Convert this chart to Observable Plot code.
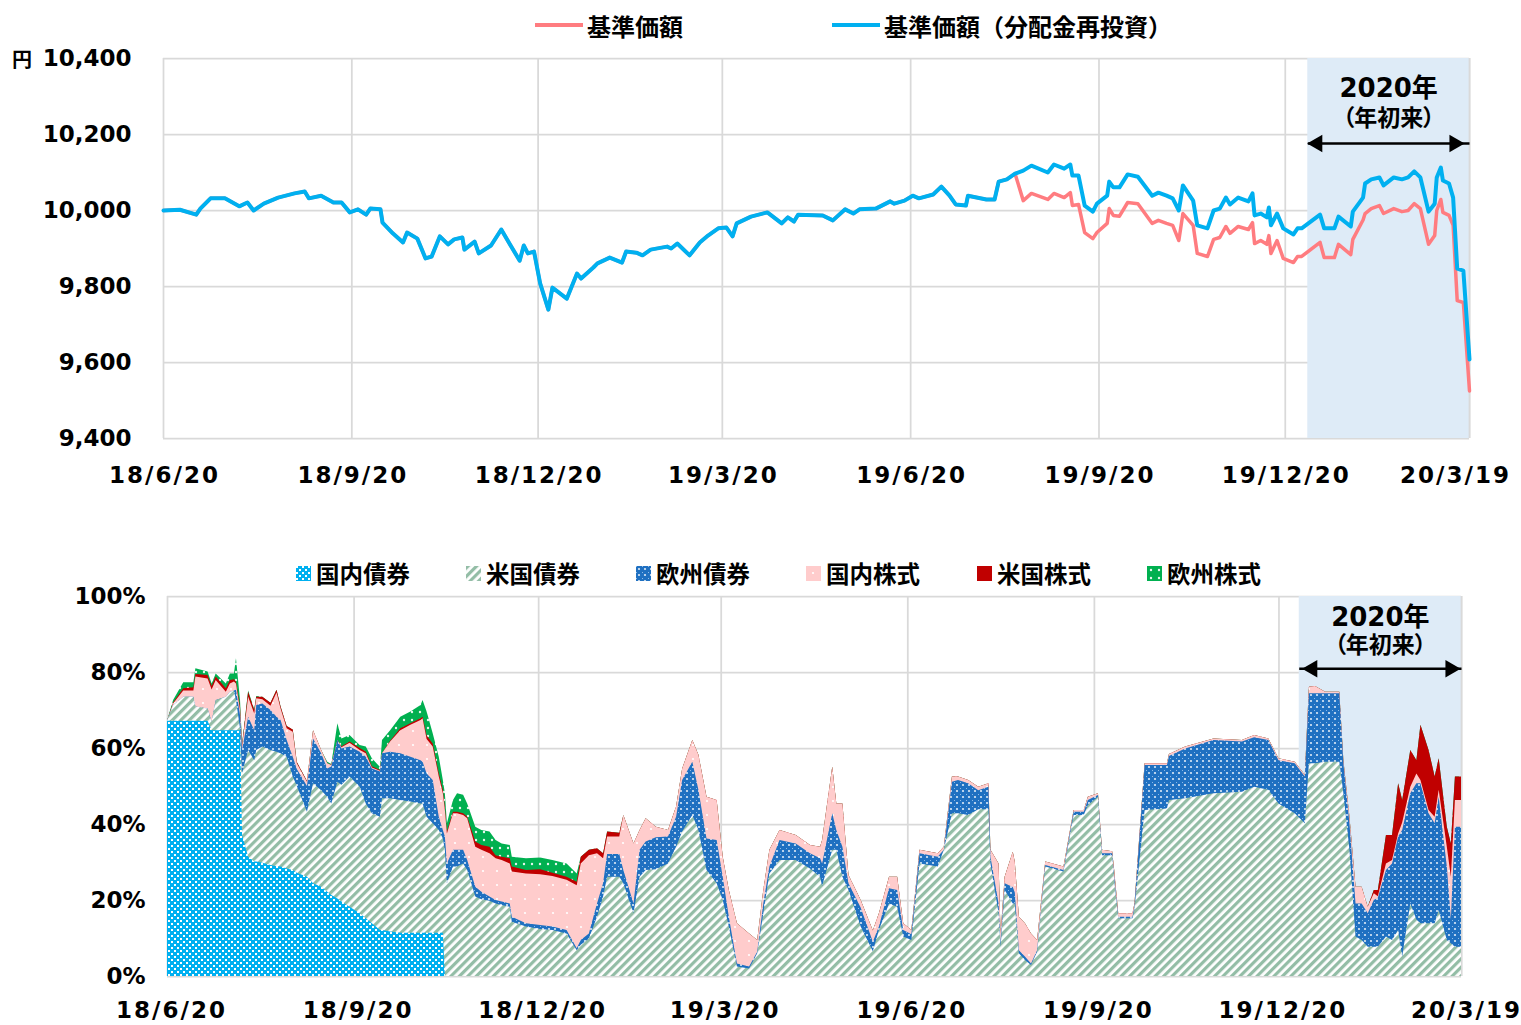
<!DOCTYPE html>
<html><head><meta charset="utf-8">
<script src="https://cdn.jsdelivr.net/npm/d3@7"></script>
<script src="https://cdn.jsdelivr.net/npm/@observablehq/plot@0.6"></script>
<style>
body{margin:0;background:#fff;}
#wrap{position:relative;width:1521px;height:1025px;overflow:hidden;background:#fff;
  font-family:"DejaVu Sans","Noto Sans CJK JP",sans-serif;font-weight:bold;color:#000;}
.abs{position:absolute;}
.item{position:absolute;display:flex;align-items:center;height:30px;white-space:nowrap;font-family:"Noto Sans CJK JP",sans-serif;font-weight:bold;}
</style></head><body>
<svg width="0" height="0" style="position:absolute;left:0;top:0">
<defs>
<pattern id="pDomB" patternUnits="userSpaceOnUse" width="6" height="6">
 <rect width="6" height="6" fill="#00B0F0"/>
 <rect x="0" y="0" width="2" height="2" fill="#ffffff"/>
 <rect x="3" y="3" width="2" height="2" fill="#ffffff"/>
</pattern>
<pattern id="pUsB" patternUnits="userSpaceOnUse" width="6" height="6" patternTransform="rotate(45)">
 <rect width="6" height="6" fill="#ffffff"/>
 <rect width="3.2" height="6" fill="#93BDA6"/>
</pattern>
<pattern id="pEuB" patternUnits="userSpaceOnUse" width="6" height="6">
 <rect width="6" height="6" fill="#1F70C1"/>
 <circle cx="3" cy="3" r="1.1" fill="#ffffff" fill-opacity="0.85"/>
 <rect x="0" y="0" width="1" height="1" fill="#8EBBE8"/>
</pattern>
<pattern id="pJpE" patternUnits="userSpaceOnUse" width="14" height="14">
 <rect width="14" height="14" fill="#FFCCCC"/>
 <circle cx="7" cy="7" r="1.1" fill="#ffffff"/>
</pattern>
<pattern id="pEuE" patternUnits="userSpaceOnUse" width="8" height="8">
 <rect width="8" height="8" fill="#00B050"/>
 <circle cx="4" cy="4" r="1.2" fill="#ffffff" fill-opacity="0.9"/>
</pattern>
</defs></svg>
<div id="wrap">
  <div id="top" class="abs" style="left:0;top:0"></div>
  <div id="bottom" class="abs" style="left:0;top:500px"></div>
  <div id="legendTop"></div>
  <div id="legendBottom"></div>
  <div class="abs" style="left:12px;top:44px;font-size:20px;font-family:'Noto Sans CJK JP',sans-serif;">円</div>
</div>
<script>
// ---------------- data: top chart (基準価額) ----------------
const tickDates = ["2018-06-20","2018-09-20","2018-12-20","2019-03-20","2019-06-20","2019-09-20","2019-12-20","2020-03-19"];
const tickLabels = ["18/6/20","18/9/20","18/12/20","19/3/20","19/6/20","19/9/20","19/12/20","20/3/19"];
const navYTicks = [9400, 9600, 9800, 10000, 10200, 10400];
const allocYTicks = [0, 20, 40, 60, 80, 100];

const navDates = [
"2018-06-20","2018-06-28","2018-07-06","2018-07-08","2018-07-13","2018-07-20","2018-07-27","2018-07-31","2018-08-03","2018-08-08",
"2018-08-15","2018-08-23","2018-08-28","2018-08-30","2018-09-05","2018-09-11","2018-09-15","2018-09-19","2018-09-23","2018-09-27",
"2018-09-29","2018-10-04","2018-10-05","2018-10-10","2018-10-15","2018-10-17","2018-10-22","2018-10-26","2018-10-29","2018-11-02",
"2018-11-06","2018-11-09","2018-11-13","2018-11-14","2018-11-19","2018-11-21","2018-11-27","2018-12-02","2018-12-06","2018-12-11",
"2018-12-13","2018-12-15","2018-12-18","2018-12-21","2018-12-25","2018-12-27","2019-01-03","2019-01-08","2019-01-10","2019-01-16",
"2019-01-18","2019-01-24","2019-01-30","2019-02-01","2019-02-06","2019-02-09","2019-02-13","2019-02-21","2019-02-23","2019-02-26",
"2019-03-04","2019-03-09","2019-03-13","2019-03-18","2019-03-22","2019-03-25","2019-03-27","2019-04-03","2019-04-11","2019-04-18",
"2019-04-21","2019-04-24","2019-04-26","2019-05-08","2019-05-13","2019-05-19","2019-05-23","2019-05-26","2019-06-03","2019-06-10",
"2019-06-12","2019-06-17","2019-06-21","2019-06-24","2019-07-01","2019-07-05","2019-07-09","2019-07-12","2019-07-17","2019-07-18",
"2019-07-27","2019-07-31","2019-08-02","2019-08-06","2019-08-10","2019-08-14","2019-08-18","2019-08-26","2019-08-29","2019-09-03",
"2019-09-06","2019-09-07","2019-09-10","2019-09-13","2019-09-17","2019-09-19","2019-09-24","2019-09-25","2019-09-27","2019-09-30",
"2019-10-04","2019-10-09","2019-10-16","2019-10-19","2019-10-23","2019-10-26","2019-10-29","2019-10-31","2019-11-05","2019-11-07",
"2019-11-12","2019-11-15","2019-11-18","2019-11-21","2019-11-23","2019-11-27","2019-12-02","2019-12-04","2019-12-05","2019-12-08",
"2019-12-11","2019-12-12","2019-12-13","2019-12-16","2019-12-19","2019-12-24","2019-12-26","2019-12-28","2020-01-06","2020-01-08",
"2020-01-13","2020-01-15","2020-01-21","2020-01-22","2020-01-27","2020-01-28","2020-01-31","2020-02-04","2020-02-06","2020-02-11",
"2020-02-15","2020-02-18","2020-02-21","2020-02-24","2020-02-28","2020-03-02","2020-03-03","2020-03-05","2020-03-06","2020-03-09",
"2020-03-11","2020-03-13","2020-03-16","2020-03-19"];

// 基準価額（分配金再投資）
const navReinvest = [
10000,10002,9989,10005,10032,10032,10011,10021,10000,10018,
10034,10045,10050,10032,10039,10021,10021,9995,10003,9989,
10005,10003,9968,9940,9916,9942,9926,9874,9879,9932,
9911,9924,9929,9897,9918,9887,9908,9950,9913,9868,
9908,9887,9892,9808,9739,9797,9768,9834,9821,9850,
9861,9876,9863,9892,9889,9882,9897,9905,9900,9913,
9882,9916,9934,9953,9955,9932,9966,9984,9995,9966,
9982,9971,9989,9987,9974,10003,9992,10003,10005,10024,
10018,10026,10039,10032,10042,10063,10039,10016,10013,10039,
10029,10029,10076,10082,10097,10105,10118,10100,10121,10110,
10121,10092,10092,10013,9997,10018,10039,10076,10061,10061,
10095,10089,10039,10047,10039,10032,10000,10066,10026,9961,
9953,10000,10005,10034,10016,10034,10024,10045,9987,9992,
9982,10008,9961,9992,9953,9937,9953,9953,9989,9953,
9953,9984,9958,9997,10034,10071,10082,10087,10066,10087,
10082,10087,10103,10087,9997,10018,10087,10113,10079,10071,
10034,9847,9842,9608];

// 基準価額: identical to the line above until the distribution, then these values (last 70 dates)
const navPrice = [
10097,10026,10045,10029,10045,10034,
10047,10013,10016,9942,9926,9942,9966,10005,9987,9985,
10021,10018,9966,9974,9966,9961,9921,9992,9961,9887,
9879,9924,9929,9958,9940,9958,9950,9968,9913,9921,
9911,9934,9887,9921,9874,9863,9879,9879,9916,9876,
9876,9911,9884,9924,9975,9992,10005,10013,9992,10005,
9997,10000,10018,10005,9911,9934,10000,10029,9995,9987,
9961,9763,9758,9525];

// ---------------- data: bottom chart (資産配分, %) ----------------
const allocDates = [
"2018-06-20","2018-06-23","2018-06-28","2018-07-03","2018-07-04","2018-07-10","2018-07-12","2018-07-14","2018-07-19","2018-07-21",
"2018-07-23","2018-07-24","2018-07-26","2018-07-27","2018-07-30","2018-08-02","2018-08-03","2018-08-06","2018-08-10","2018-08-13",
"2018-08-15","2018-08-18","2018-08-21","2018-08-23","2018-08-28","2018-08-31","2018-09-04","2018-09-07","2018-09-09","2018-09-12",
"2018-09-14","2018-09-18","2018-09-23","2018-09-26","2018-09-29","2018-10-03","2018-10-04","2018-10-08","2018-10-13","2018-10-18",
"2018-10-23","2018-10-24","2018-10-26","2018-10-29","2018-11-01","2018-11-03","2018-11-04","2018-11-05","2018-11-08","2018-11-10",
"2018-11-13","2018-11-15","2018-11-19","2018-11-22","2018-11-26","2018-11-29","2018-12-02","2018-12-06","2018-12-07","2018-12-14",
"2018-12-21","2018-12-27","2019-01-03","2019-01-08","2019-01-10","2019-01-14","2019-01-18","2019-01-21","2019-01-23","2019-01-29",
"2019-01-31","2019-02-05","2019-02-08","2019-02-11","2019-02-16","2019-02-22","2019-02-26","2019-03-01","2019-03-06","2019-03-09",
"2019-03-13","2019-03-18","2019-03-21","2019-03-24","2019-03-28","2019-04-03","2019-04-07","2019-04-10","2019-04-13","2019-04-18",
"2019-04-26","2019-05-03","2019-05-08","2019-05-09","2019-05-14","2019-05-16","2019-05-19","2019-05-22","2019-05-28","2019-06-03",
"2019-06-06","2019-06-11","2019-06-15","2019-06-18","2019-06-22","2019-06-26","2019-07-05","2019-07-08","2019-07-12","2019-07-15",
"2019-07-20","2019-07-25","2019-07-30","2019-07-31","2019-08-04","2019-08-05","2019-08-07","2019-08-11","2019-08-12","2019-08-14",
"2019-08-17","2019-08-20","2019-08-23","2019-08-27","2019-09-05","2019-09-10","2019-09-15","2019-09-17","2019-09-22","2019-09-24",
"2019-09-29","2019-09-30","2019-10-02","2019-10-09","2019-10-10","2019-10-15","2019-10-26","2019-10-27","2019-11-04","2019-11-18",
"2019-12-02","2019-12-08","2019-12-15","2019-12-20","2019-12-28","2020-01-02","2020-01-04","2020-01-07","2020-01-12","2020-01-19",
"2020-01-21","2020-01-24","2020-01-27","2020-01-30","2020-02-02","2020-02-05","2020-02-07","2020-02-11","2020-02-14","2020-02-17",
"2020-02-19","2020-02-23","2020-02-26","2020-02-28","2020-03-03","2020-03-06","2020-03-08","2020-03-12","2020-03-14","2020-03-16",
"2020-03-19"];

const domBond = [
67.2,67.2,67.2,67.2,67.2,67.2,64.7,64.7,64.7,64.7,
64.7,64.7,64.7,37.1,31.4,30.1,30.1,29.8,29.2,28.9,
28.8,28.3,27.9,27.2,26.1,24.4,23.5,22.2,21.3,20.4,
19.6,18.2,16.5,15.2,13.9,12.1,12.1,11.7,11.4,11.4,
11.4,11.4,11.4,11.4,11.4,11.4,0,0,0,0,
0,0,0,0,0,0,0,0,0,0,
0,0,0,0,0,0,0,0,0,0,
0,0,0,0,0,0,0,0,0,0,
0,0,0,0,0,0,0,0,0,0,
0,0,0,0,0,0,0,0,0,0,
0,0,0,0,0,0,0,0,0,0,
0,0,0,0,0,0,0,0,0,0,
0,0,0,0,0,0,0,0,0,0,
0,0,0,0,0,0,0,0,0,0,
0,0,0,0,0,0,0,0,0,0,
0,0,0,0,0,0,0,0,0,0,
0,0,0,0,0,0,0,0,0,0,
0];

const usBond = [
0,4.1,6.3,6.3,3.7,3.2,2.2,7.9,8.8,10.1,
10.4,7.9,0.5,16.2,28.1,26.7,29.4,30.6,30.3,30.1,
29.8,29.4,24.6,22.8,17.1,26.3,25.4,25.0,24.1,30.7,
30.7,34.3,33.3,30.2,28.9,29.8,34.7,35.1,34.9,34.5,
34.0,34.0,30.5,28.8,27.0,24.8,33.2,24.4,28.8,28.8,
29.6,27.9,20.9,20.2,19.8,19.1,18.7,18.2,14.3,13.0,
12.4,12.1,11.2,6.8,8.2,9.9,15.6,20.9,26.1,26.1,
24.4,16.5,26.1,27.9,28.1,29.6,34.0,38.0,42.4,38.4,
27.9,24.4,20.0,13.0,2.5,2.0,6.0,16.5,27.0,30.5,
30.5,28.3,26.1,23.7,33.2,33.2,26.1,22.6,13.0,6.5,
12.1,19.1,18.2,10.4,9.5,29.6,28.8,33.2,42.8,42.8,
42.4,43.9,43.9,29.6,16.5,7.7,22.6,19.1,19.1,6.0,
4.2,2.9,6.4,28.8,27.5,42.4,42.4,45.0,47.2,31.8,
31.8,25.3,15.2,15.2,17.6,43.7,44.1,46.3,46.8,48.1,
48.5,49.8,49.0,45.4,42.8,40.2,56.0,56.0,56.4,56.4,
48.1,33.2,10.4,9.5,7.7,7.7,7.7,10.4,9.5,12.1,
5.1,19.1,14.9,13.9,13.9,13.9,17.4,9.5,8.6,7.7,
7.7];

const euBond = [
0,0,0,0,0,0,0,0,0,0,
0,2.7,3.5,6.2,8.7,7.9,11.8,11.3,10.5,9.2,
8.8,4.4,5.2,4.5,6.8,11.8,9.7,7.4,9.7,11.0,
9.6,7.9,9.2,12.3,11.8,11.9,11.8,12.2,12.3,11.8,
11.4,11.0,11.4,11.4,3.5,2.2,3.5,5.2,4.4,4.4,
3.6,2.6,2.6,2.0,1.1,0.9,0.9,0.9,1.3,0.9,
1.0,0.9,0.9,0.5,1.3,1.3,3.5,3.5,6.0,6.0,
3.5,2.6,7.1,7.5,8.4,7.1,7.9,13.6,14.0,10.6,
8.3,11.4,6.1,2.6,0.8,0.5,0.4,2.6,1.8,5.3,
4.4,4.0,4.9,5.9,9.6,5.2,7.9,1.8,5.0,2.5,
0.9,4.0,4.4,1.7,1.5,2.7,2.6,0,8.3,8.8,
8.3,5.0,5.9,1.8,2.6,0.9,1.8,4.3,2.9,0.8,
0.9,0.4,0.4,0.4,0.4,0.8,0.8,1.3,0.4,0.5,
0.5,0.8,0.4,0.4,0.6,11.8,11.4,11.6,13.1,14.0,
13.2,13.0,13.1,11.4,13.2,12.3,18.4,18.4,18.0,18.0,
7.9,7.0,8.7,9.6,8.8,12.3,12.9,17.5,20.1,24.6,
33.3,29.0,35.8,36.8,28.9,26.3,29.8,19.3,6.4,31.6,
31.6];

const jpEquity = [
0,0.4,1.6,1.6,7.9,7.9,8.5,5.3,1.3,2.2,
2.4,1.7,1.3,0.9,5.3,4.4,1.8,1.1,1.1,6.4,
3.0,3.1,6.6,1.5,1.1,2.2,0.9,1.4,0.4,0,
0.3,1.0,0.5,0.9,0.3,0.2,0,2.7,6.1,8.4,
10.6,11.4,9.1,8.8,10.6,9.7,7.0,7.9,9.6,9.6,
9.2,11.0,10.5,11.0,11.4,11.0,10.9,10.5,11.9,13.1,
13.4,13.3,13.2,16.6,20.1,20.6,13.2,6.6,4.6,4.6,
14.5,15.8,5.2,6.1,2.8,1.7,2.7,3.0,5.7,9.2,
11.0,10.5,5.3,7.0,10.6,8.7,3.1,3.5,4.4,2.6,
2.2,2.2,3.0,6.2,12.3,7.0,11.4,2.2,2.0,3.0,
3.5,3.0,3.5,1.8,1.1,0.9,0.9,0.8,1.4,0.9,
0.9,0.9,0.9,1.8,10.5,2.6,1.7,9.3,8.0,8.8,
8.8,7.9,2.7,0.9,0.9,0.5,0.5,0.9,0.5,0.9,
0.5,1.8,0.9,0.9,0.9,0.5,0.5,0.5,0.5,0.4,
0.4,0.6,0.4,0.5,0.4,0.4,1.7,1.9,0.4,0.4,
0.8,1.7,4.4,4.4,1.7,1.8,0.4,1.7,0.9,0.8,
2.0,1.7,2.6,0.9,0.9,1.7,1.8,5.2,11.1,7.0,
7.0];

const usEquity = [
0,0.3,0.6,0.9,0.7,0.9,0.9,0.9,0.9,0.9,
0.6,0.5,0.9,0.4,1.3,0.9,0.4,0.7,0.8,0.7,
0.5,0.6,0.6,0.3,0.2,0,0,0,0.1,0,
0.2,0.3,0.5,0.5,0.3,0.2,0,0.2,0.5,0.4,
0.4,0.4,0.9,0.8,0.8,0.9,0.8,0.5,0.4,0.4,
0.4,0.4,1.4,1.3,1.7,0.8,0.9,1.4,1.3,0.9,
1.3,0.9,0.8,0.9,1.8,1.4,1.3,1.3,1.3,1.0,
0,0,0,0,0,0,0,0,0,0,
0,0,0,0,0,0,0,0,0,0,
0,0,0,0,0,0,0,0,0,0,
0,0,0,0,0,0,0,0,0,0,
0,0,0,0,0,0,0,0,0,0,
0,0,0,0,0,0,0,0,0,0,
0,0,0,0,0,0,0,0,0,0,
0,0,0,0,0,0,0,0,0,0,
0,0,0,0,0,0.8,1.6,7.5,6.6,13.2,
5.9,9.7,3.5,14.5,15.8,10.6,8.3,5.3,8.8,6.2,
6.2];

const euEquity = [
0,0.6,1.6,1.3,1.5,0.9,0.7,0.8,1.3,1.7,
1.5,6.1,1.7,0.4,0.3,0.2,0.2,0,0,0,
0,0,0,0,0,0,0,0.4,0.2,4.4,
2.1,1.7,0.8,1.3,2.1,0.8,3.5,2.8,3.0,3.1,
3.5,4.4,6.3,2.7,4.4,2.6,3.6,2.2,3.1,4.9,
4.9,3.5,3.9,3.9,4.0,4.0,3.5,3.5,2.6,3.1,
3.1,3.3,3.5,2.2,0,0,0,0,0,0,
0,0,0,0,0,0,0,0,0,0,
0,0,0,0,0,0,0,0,0,0,
0,0,0,0,0,0,0,0,0,0,
0,0,0,0,0,0,0,0,0,0,
0,0,0,0,0,0,0,0,0,0,
0,0,0,0,0,0,0,0,0,0,
0,0,0,0,0,0,0,0,0,0,
0,0,0,0,0,0,0,0,0,0,
0,0,0,0,0,0,0,0,0,0,
0,0,0,0,0,0,0,0,0,0,
0];

const assetNames = ["国内債券","米国債券","欧州債券","国内株式","米国株式","欧州株式"];
const assetFills = ["url(#pDomB)","url(#pUsB)","url(#pEuB)","url(#pJpE)","#C00000","url(#pEuE)"];
const assetValues = [domBond, usBond, euBond, jpEquity, usEquity, euEquity];

const lineNames = ["基準価額","基準価額（分配金再投資）"];
const lineColors = ["#FF7C80","#00B0F0"];

const topShadeStart = "2019-12-31";
const bottomShadeStart = "2019-12-30";
const topNote = {year: 10321, since: 10242, arrow: 10176};
const bottomNote = {year: 94.5, since: 87.1, arrow: 81.0};

// ---------------- build ----------------
const parse = d3.utcParse("%Y-%m-%d");
for (const a of assetValues) if (a.length !== allocDates.length) throw new Error("alloc length " + a.length + " vs " + allocDates.length);
if (navReinvest.length !== navDates.length) throw new Error("nav length");

const ticks = tickDates.map(parse);
const labelOf = new Map(ticks.map((d, i) => [+d, tickLabels[i]]));
const fmtTick = d => labelOf.get(+d);
const xStart = ticks[0], xEnd = ticks[ticks.length - 1];

const navData = navDates.map((d, i) => ({date: parse(d), value: navReinvest[i]}));
const divIdx = navDates.length - navPrice.length;
const priceData = navData.slice(0, divIdx).concat(navPrice.map((v, i) => ({date: parse(navDates[divIdx + i]), value: v})));

const svgStyle = 'font-family:"DejaVu Sans","Noto Sans CJK JP",sans-serif;font-size:23px;font-weight:bold;color:#000;background:transparent;overflow:visible;font-feature-settings:"palt";';
const grid = "#d9d9d9";

function annotation(shadeStart, note, leftDx, rightDx) {
  const mid = new Date((+shadeStart + +xEnd) / 2);
  return [
    Plot.link([{a: shadeStart, b: xEnd, y: note.arrow}], {x1: "a", x2: "b", y1: "y", y2: "y", stroke: "#000", strokeWidth: 2.5}),
    Plot.dot([{x: shadeStart, y: note.arrow}], {x: "x", y: "y", symbol: "triangle", r: 6.5, fill: "#000", stroke: "none", rotate: -90, dx: leftDx}),
    Plot.dot([{x: xEnd, y: note.arrow}], {x: "x", y: "y", symbol: "triangle", r: 6.5, fill: "#000", stroke: "none", rotate: 90, dx: rightDx}),
    Plot.text([{x: mid, y: note.year, t: "2020年"}], {x: "x", y: "y", text: "t", fontSize: 26, fontWeight: "bold", fill: "#000"}),
    Plot.text([{x: mid, y: note.since, t: "（年初来）"}], {x: "x", y: "y", text: "t", fontSize: 23, fontWeight: "bold", fill: "#000"})
  ];
}

function spaceXLabels(svg) {
  svg.querySelectorAll('[aria-label="x-axis tick label"] text').forEach(t => { t.style.letterSpacing = "2px"; });
}

const topShade = parse(topShadeStart);
const topPlot = Plot.plot({
  width: 1521, height: 500,
  marginLeft: 163, marginRight: 52, marginTop: 58, marginBottom: 62,
  style: svgStyle,
  x: {type: "utc", domain: [xStart, xEnd]},
  y: {domain: [9400, 10400]},
  marks: [
    Plot.ruleY(navYTicks, {stroke: grid, strokeWidth: 1.75}),
    Plot.ruleX(ticks, {stroke: grid, strokeWidth: 1.75}),
    Plot.rect([{a: topShade, b: xEnd}], {x1: "a", x2: "b", fill: "#DEEBF7"}),
    Plot.ruleX([xEnd], {stroke: grid, strokeWidth: 1.75}),
    Plot.line(priceData, {x: "date", y: "value", stroke: lineColors[0], strokeWidth: 3.5}),
    Plot.line(navData, {x: "date", y: "value", stroke: lineColors[1], strokeWidth: 4}),
    ...annotation(topShade, topNote, 9.5, -15),
    Plot.axisY({ticks: navYTicks, tickFormat: d3.format(","), tickSize: 0, tickPadding: 32, label: null}),
    Plot.axisX({ticks: ticks.slice(0, -1), tickFormat: fmtTick, tickSize: 0, tickPadding: 28, label: null, dx: 1}),
    Plot.axisX({ticks: [xEnd], tickFormat: fmtTick, tickSize: 0, tickPadding: 28, label: null, dx: -14})
  ]
});
spaceXLabels(topPlot);
document.getElementById("top").appendChild(topPlot);

// stacked allocation: draw cumulative tops from the top series down so lower layers cover upper ones
const aDates = allocDates.map(parse);
const cum = aDates.map(() => 0);
const layers = assetValues.map((vals, k) => ({
  fill: assetFills[k],
  rows: aDates.map((d, i) => { cum[i] += vals[i]; return {date: d, base: 0, top: cum[i]}; })
}));

const bottomShade = parse(bottomShadeStart);
const bottomPlot = Plot.plot({
  width: 1521, height: 525,
  marginLeft: 167, marginRight: 60, marginTop: 96, marginBottom: 49,
  style: svgStyle,
  x: {type: "utc", domain: [xStart, xEnd]},
  y: {domain: [0, 100]},
  marks: [
    Plot.ruleY(allocYTicks, {stroke: grid, strokeWidth: 1.75}),
    Plot.ruleX(ticks, {stroke: grid, strokeWidth: 1.75}),
    Plot.rect([{a: bottomShade, b: xEnd}], {x1: "a", x2: "b", fill: "#DEEBF7"}),
    Plot.ruleX([xEnd], {stroke: grid, strokeWidth: 1.75}),
    ...layers.slice().reverse().map(l => Plot.areaY(l.rows, {x: "date", y1: "base", y2: "top", fill: l.fill, curve: "linear"})),
    ...annotation(bottomShade, bottomNote, 13, -11),
    Plot.axisY({ticks: allocYTicks, tickFormat: d => d + "%", tickSize: 0, tickPadding: 22, label: null}),
    Plot.axisX({ticks: ticks.slice(0, -1), tickFormat: fmtTick, tickSize: 0, tickPadding: 25, label: null, dx: 4}),
    Plot.axisX({ticks: [xEnd], tickFormat: fmtTick, tickSize: 0, tickPadding: 25, label: null, dx: 5})
  ]
});
spaceXLabels(bottomPlot);
document.getElementById("bottom").appendChild(bottomPlot);

// legends (HTML, above each chart)
const lt = document.getElementById("legendTop");
[535, 832].forEach((x, i) => {
  const it = document.createElement("div");
  it.className = "item";
  it.style.left = x + "px"; it.style.top = "10px"; it.style.fontSize = "24px";
  it.innerHTML = `<span style="display:inline-block;width:48px;height:4px;background:${lineColors[i]};margin-right:4px"></span>${lineNames[i]}`;
  lt.appendChild(it);
});
const lb = document.getElementById("legendBottom");
[296, 466, 636, 806, 977, 1147].forEach((x, i) => {
  const it = document.createElement("div");
  it.className = "item";
  it.style.left = x + "px"; it.style.top = "558px"; it.style.fontSize = "23.5px";
  it.innerHTML = `<svg width="15" height="15" style="margin-right:5px"><rect width="15" height="15" fill="${assetFills[i]}"/></svg>${assetNames[i]}`;
  lb.appendChild(it);
});
</script>
</body></html>
